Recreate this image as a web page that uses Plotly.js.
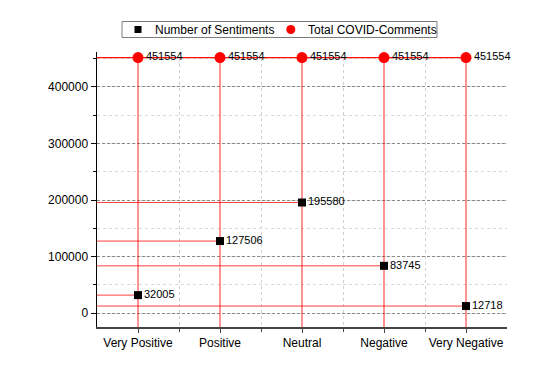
<!DOCTYPE html>
<html>
<head>
<meta charset="utf-8">
<script src="https://cdn.plot.ly/plotly-3.0.1.min.js"></script>
<style>html,body{margin:0;padding:0;background:#fff;}#chart{width:545px;height:388px;}</style>
</head>
<body>
<div id="chart"></div>
<script>
const categories = ["Very Positive", "Positive", "Neutral", "Negative", "Very Negative"];
const sentimentCounts = [32005, 127506, 195580, 83745, 12718];
const totalComments = [451554, 451554, 451554, 451554, 451554];
const yTickVals = [0, 100000, 200000, 300000, 400000];
const seriesNames = ["Number of Sentiments", "Total COVID-Comments"];

const xIdx = categories.map((c, i) => i);
const xMin = -0.5, xMax = categories.length - 0.5;
const yMin = -24300, yMax = 461400;

// drop lines: horizontal to left axis, vertical to bottom axis
const hx = [], hy = [];
sentimentCounts.forEach((v, i) => { hx.push(xMin, xIdx[i], null); hy.push(v, v, null); });
const vx = [], vy = [];
totalComments.forEach((v, i) => { vx.push(xIdx[i], xIdx[i], null); vy.push(v, yMin, null); });
const tx = [xMin].concat(xIdx), ty = [totalComments[0]].concat(totalComments);

const fam = "Liberation Sans, Arial, sans-serif";

const traces = [
  {x: vx, y: vy, mode: "lines", line: {color: "rgba(255,0,0,0.85)", width: 1}, showlegend: false, hoverinfo: "skip"},
  {x: hx, y: hy, mode: "lines", line: {color: "rgba(255,0,0,0.75)", width: 1}, showlegend: false, hoverinfo: "skip"},
  {x: tx, y: ty, mode: "lines", line: {color: "rgba(255,0,0,0.95)", width: 1.2}, showlegend: false, hoverinfo: "skip"},
  {x: xIdx, y: sentimentCounts, name: seriesNames[0], mode: "markers+text", cliponaxis: false,
   marker: {symbol: "square", color: "#000", size: 8},
   text: sentimentCounts.map(String), textposition: "middle right",
   textfont: {family: fam, size: 11, color: "#000"}, showlegend: false},
  {x: xIdx, y: totalComments, name: seriesNames[1], mode: "markers+text", cliponaxis: false,
   marker: {symbol: "circle", color: "#ff0000", size: 11},
   text: totalComments.map(String), textposition: "middle right",
   textfont: {family: fam, size: 11, color: "#000"}, showlegend: false}
];

// legend drawn as layout decoration (pixel -> paper helpers)
const L = 97, R = 507, T = 52, B = 327;
const px = p => (p - L) / (R - L);
const py = p => (B - p) / (B - T);

const shapes = [
  {type: "rect", xref: "paper", yref: "paper", x0: px(122), x1: px(437), y0: py(21.5), y1: py(37.5),
   line: {color: "#7a7a7a", width: 1}, fillcolor: "rgba(0,0,0,0)"},
  {type: "rect", xref: "paper", yref: "paper", x0: px(134.5), x1: px(141.5), y0: py(26), y1: py(33),
   line: {width: 0}, fillcolor: "#000"},
  {type: "circle", xref: "paper", yref: "paper", x0: px(286.3), x1: px(295.3), y0: py(25), y1: py(34),
   line: {width: 0}, fillcolor: "#ff0000"}
];
const annotations = [
  {xref: "paper", yref: "paper", x: px(153), y: py(29.5), xanchor: "left", yanchor: "middle",
   text: seriesNames[0], showarrow: false, font: {family: fam, size: 12, color: "#000"}},
  {xref: "paper", yref: "paper", x: px(306), y: py(29.5), xanchor: "left", yanchor: "middle",
   text: seriesNames[1], showarrow: false, font: {family: fam, size: 12, color: "#000"}}
];

const layout = {
  width: 545, height: 388,
  margin: {l: L, r: 545 - R, t: T, b: 388 - B, autoexpand: false},
  paper_bgcolor: "#fff", plot_bgcolor: "#fff",
  font: {family: fam, size: 12, color: "#000"},
  showlegend: false,
  shapes: shapes,
  annotations: annotations,
  xaxis: {
    range: [xMin, xMax], tickmode: "array", tickvals: xIdx, ticktext: categories,
    showline: true, linecolor: "#444", linewidth: 2, zeroline: false,
    ticks: "outside", ticklen: 4, tickcolor: "#444", tickwidth: 1,
    showgrid: false,
    minor: {tickmode: "array", tickvals: xIdx.slice(0, -1).map(v => v + 0.5),
            ticks: "outside", ticklen: 3, tickcolor: "#444", showgrid: true,
            gridcolor: "#d0d0d0", griddash: "dot", gridwidth: 1},
    tickfont: {size: 12}
  },
  yaxis: {
    range: [yMin, yMax], tickmode: "array", tickvals: yTickVals, tickformat: "d",
    showline: true, linecolor: "#000", linewidth: 1.5, zeroline: false,
    ticks: "outside", ticklen: 5, tickcolor: "#000", tickwidth: 1,
    showgrid: true, gridcolor: "#8a8a8a", griddash: "3px,2px", gridwidth: 1,
    minor: {dtick: 50000, tick0: 0, ticks: "outside", ticklen: 3, tickcolor: "#000",
            showgrid: true, gridcolor: "#d8d8d8", griddash: "dot", gridwidth: 1},
    tickfont: {size: 12}
  }
};

Plotly.newPlot("chart", traces, layout, {staticPlot: true, displayModeBar: false});
</script>
</body>
</html>
